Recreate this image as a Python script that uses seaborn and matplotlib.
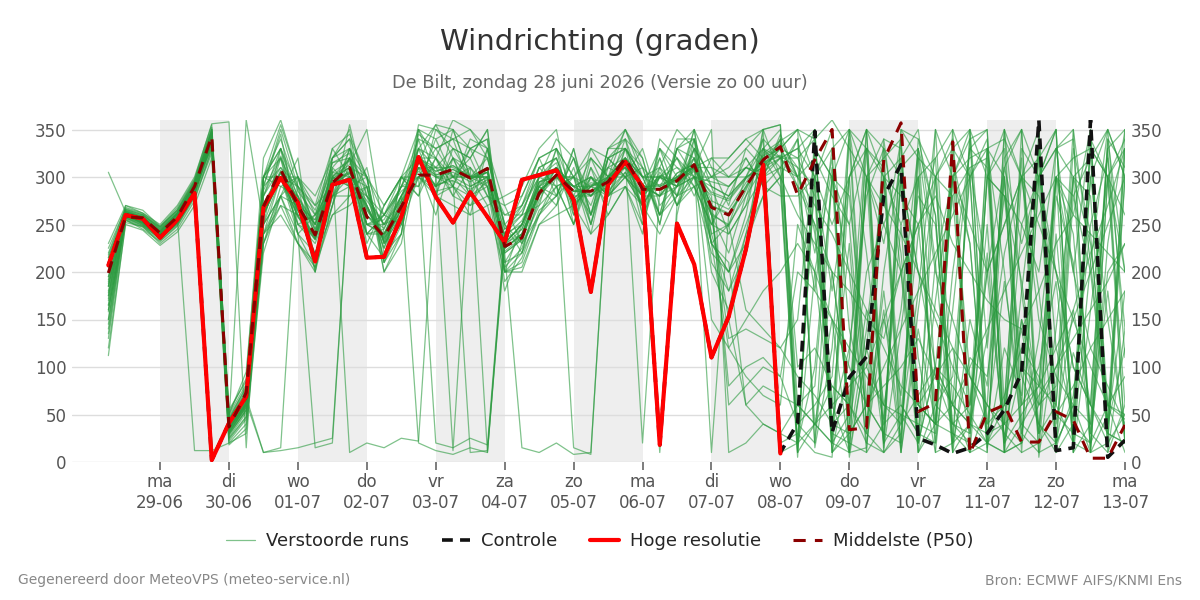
import pandas as pd
import numpy as np
import seaborn as sns
import matplotlib.pyplot as plt
from matplotlib.lines import Line2D

# 6-hourly steps from 28-06 06:00 until 13-07 00:00 (60 steps)
start = "2026-06-28 06:00"
n_steps = 60

# Hoge resolutie (ends 08-07 00:00)
hires = [207, 260, 256, 236, 255, 283, 2, 41, 69, 268, 299, 273, 211, 292, 297, 215, 216, 258, 321, 279,
         252, 284, 258, 231, 297, 302, 307, 276, 179, 292, 316, 290, 18, 251, 208, 110, 153, 224, 313, 9]

# Controle run
control = [207, 260, 256, 236, 255, 283, 2, 41, 69, 268, 299, 273, 211, 292, 297, 215, 216, 258, 321, 279,
           252, 284, 258, 231, 297, 302, 307, 276, 179, 292, 316, 290, 18, 251, 208, 110, 153, 224, 313, 10,
           41, 348, 31, 89, 111, 280, 313, 25, 18, 9, 15, 30, 55, 94, 360, 12, 15, 360, 5, 23]

# Middelste (P50)
median = [199, 258, 257, 241, 258, 290, 343, 37, 73, 269, 308, 270, 239, 294, 310, 258, 237, 269, 302, 302,
          308, 299, 309, 227, 236, 283, 302, 285, 285, 295, 320, 287, 287, 296, 313, 268, 260, 290, 318, 332,
          281, 318, 350, 34, 36, 318, 357, 53, 62, 337, 9, 52, 60, 21, 21, 53, 44, 4, 4, 39]

# Verstoorde runs: first 3 days + days 4-10 + last 5 days, per member
members = [
    [185, 262, 250, 238, 255, 285, 335, 28, 55]
    + [250, 330, 290, 215, 320, 340, 300, 260, 250, 330, 355, 320, 280, 310, 200, 250, 300, 340, 320, 260,
       300, 350, 300, 260, 330, 340, 230, 200, 250, 300, 345]
    + [300, 250, 45, 120, 280, 330, 220, 20, 100, 60, 310, 200, 25, 150, 80, 300, 240, 30, 180, 20],
    [150, 258, 260, 245, 262, 292, 345, 40, 70]
    + [290, 345, 250, 260, 280, 290, 240, 215, 300, 280, 320, 290, 260, 330, 245, 260, 270, 290, 250, 310,
       280, 300, 270, 330, 310, 290, 250, 280, 320, 290, 310]
    + [340, 15, 120, 350, 220, 60, 160, 330, 260, 20, 110, 90, 220, 300, 180, 15, 70, 250, 320, 140],
    [210, 255, 248, 235, 250, 280, 350, 25, 48]
    + [240, 300, 240, 205, 270, 355, 280, 250, 290, 340, 280, 330, 320, 350, 210, 220, 260, 290, 300, 240,
       320, 330, 300, 310, 350, 330, 200, 160, 240, 280, 300]
    + [10, 200, 310, 40, 160, 20, 300, 110, 10, 200, 330, 350, 60, 140, 30, 280, 210, 15, 230, 350],
    [175, 265, 258, 242, 260, 295, 330, 45, 80]
    + [300, 290, 300, 260, 310, 330, 270, 225, 280, 320, 290, 300, 310, 280, 240, 270, 310, 320, 270, 300,
       290, 340, 260, 300, 280, 330, 300, 290, 310, 330, 320]
    + [290, 180, 330, 5, 120, 45, 250, 10, 170, 300, 90, 40, 190, 60, 330, 120, 45, 300, 150, 30],
    [135, 260, 252, 240, 256, 288, 340, 30, 60]
    + [280, 320, 240, 15, 20, 300, 250, 240, 260, 330, 310, 280, 310, 10, 230, 250, 300, 320, 270, 290,
       300, 310, 290, 20, 270, 330, 240, 250, 300, 310, 340]
    + [60, 80, 300, 200, 20, 150, 70, 240, 320, 350, 40, 130, 280, 190, 60, 80, 350, 210, 40, 120],
    [205, 262, 256, 242, 258, 12, 12, 20, 30]
    + [230, 290, 280, 250, 330, 300, 290, 230, 250, 300, 20, 15, 25, 18, 240, 280, 320, 280, 300, 250,
       310, 300, 330, 270, 290, 340, 260, 220, 280, 330, 310]
    + [300, 40, 150, 10, 300, 230, 340, 60, 90, 120, 30, 200, 310, 350, 5, 140, 300, 230, 60, 45],
    [220, 268, 262, 250, 270, 300, 355, 50, 95]
    + [300, 340, 285, 260, 315, 320, 250, 255, 290, 300, 285, 290, 280, 295, 245, 265, 300, 315, 265, 300,
       280, 305, 270, 305, 280, 300, 295, 290, 310, 305, 320]
    + [320, 280, 10, 110, 350, 300, 10, 160, 300, 280, 60, 330, 200, 30, 130, 300, 260, 350, 40, 180],
    [160, 255, 245, 232, 248, 278, 325, 20, 40]
    + [220, 280, 230, 200, 270, 330, 300, 210, 240, 350, 340, 350, 330, 340, 200, 210, 260, 280, 320, 260,
       330, 350, 320, 250, 330, 350, 240, 180, 220, 350, 10]
    + [20, 300, 350, 140, 60, 340, 200, 10, 40, 300, 230, 15, 120, 70, 320, 350, 10, 160, 300, 340],
    [190, 262, 255, 238, 258, 290, 345, 38, 65]
    + [290, 310, 275, 245, 305, 300, 275, 250, 280, 310, 260, 320, 280, 330, 235, 245, 295, 300, 300, 290,
       310, 320, 270, 300, 310, 300, 260, 130, 140, 130, 120]
    + [150, 330, 300, 10, 15, 200, 320, 350, 210, 10, 40, 300, 350, 180, 30, 60, 330, 240, 20, 50],
    [140, 257, 250, 236, 252, 283, 338, 32, 58]
    + [250, 280, 300, 235, 300, 290, 280, 225, 275, 330, 320, 300, 330, 290, 205, 225, 275, 310, 290, 260,
       320, 300, 310, 290, 320, 300, 280, 60, 80, 100, 90]
    + [40, 60, 90, 300, 330, 15, 140, 280, 250, 40, 20, 300, 330, 60, 100, 190, 20, 340, 300, 20],
    [230, 270, 265, 248, 265, 296, 350, 55, 85]
    + [280, 330, 278, 250, 308, 10, 20, 15, 25, 22, 300, 296, 10, 12, 230, 250, 292, 310, 278, 292,
       290, 314, 282, 302, 295, 308, 282, 275, 298, 315, 322]
    + [310, 290, 20, 50, 300, 340, 330, 20, 100, 280, 310, 320, 40, 20, 300, 330, 350, 10, 50, 330],
    [112, 252, 248, 230, 245, 275, 330, 22, 45]
    + [230, 270, 260, 220, 260, 280, 290, 210, 250, 345, 330, 340, 290, 300, 190, 215, 265, 280, 330, 250,
       330, 340, 290, 280, 330, 300, 230, 120, 150, 180, 200]
    + [230, 200, 40, 60, 330, 310, 60, 30, 20, 300, 340, 40, 60, 320, 10, 20, 300, 280, 30, 20],
    [305, 263, 258, 244, 262, 292, 342, 42, 72]
    + [300, 320, 260, 255, 315, 325, 250, 260, 285, 300, 280, 350, 300, 320, 250, 270, 300, 310, 260, 330,
       300, 310, 270, 300, 290, 330, 300, 300, 300, 330, 300]
    + [20, 100, 300, 250, 40, 180, 20, 340, 260, 10, 150, 80, 310, 230, 300, 20, 115, 60, 340, 200],
    [180, 260, 254, 240, 256, 287, 339, 34, 61]
    + [260, 300, 250, 230, 280, 330, 280, 250, 260, 300, 310, 330, 300, 290, 220, 15, 10, 20, 8, 10,
       300, 330, 300, 260, 280, 320, 250, 240, 270, 340, 320]
    + [300, 350, 30, 20, 10, 300, 320, 60, 40, 330, 300, 10, 350, 40, 20, 330, 300, 30, 10, 60],
    [200, 266, 260, 246, 264, 294, 348, 48, 78]
    + [290, 350, 290, 265, 320, 350, 240, 260, 290, 290, 320, 290, 270, 280, 260, 270, 320, 330, 250, 300,
       270, 330, 260, 320, 270, 300, 300, 310, 330, 350, 300]
    + [340, 240, 60, 10, 120, 300, 40, 180, 350, 60, 10, 220, 20, 150, 40, 10, 280, 200, 40, 300],
    [165, 259, 251, 237, 253, 284, 336, 30, 55]
    + [264, 300, 258, 234, 292, 304, 270, 232, 266, 320, 306, 312, 300, 310, 220, 234, 284, 301, 290, 280,
       300, 320, 292, 280, 304, 314, 150, 120, 90, 70, 60]
    + [250, 200, 150, 100, 60, 30, 310, 330, 200, 150, 90, 60, 40, 250, 300, 330, 200, 120, 80, 40],
    [195, 261, 254, 239, 257, 289, 341, 36, 63]
    + [10, 12, 15, 20, 25, 300, 250, 240, 280, 20, 12, 8, 15, 10, 240, 260, 310, 290, 300, 270,
       320, 300, 280, 310, 290, 320, 290, 240, 270, 300, 310]
    + [100, 120, 80, 60, 200, 250, 300, 200, 150, 100, 60, 200, 250, 300, 150, 90, 60, 40, 200, 230],
    [215, 264, 257, 243, 261, 291, 346, 44, 74]
    + [300, 330, 240, 260, 290, 320, 230, 270, 300, 280, 350, 330, 320, 280, 270, 230, 300, 290, 250, 320,
       280, 290, 240, 340, 320, 280, 320, 300, 320, 290, 280]
    + [280, 300, 330, 350, 300, 250, 200, 60, 40, 30, 20, 10, 350, 300, 280, 200, 100, 60, 330, 350],
    [170, 256, 249, 235, 251, 282, 332, 26, 52]
    + [240, 270, 230, 210, 280, 310, 300, 200, 240, 340, 330, 300, 320, 350, 200, 200, 250, 270, 310, 250,
       320, 340, 320, 260, 290, 350, 230, 210, 60, 80, 70]
    + [60, 40, 20, 350, 330, 300, 280, 250, 60, 40, 30, 330, 300, 100, 80, 60, 300, 320, 350, 300],
    [225, 267, 261, 247, 266, 297, 352, 52, 88]
    + [320, 360, 300, 280, 320, 340, 220, 270, 300, 290, 340, 300, 300, 270, 280, 290, 330, 350, 260, 310,
       260, 290, 250, 310, 270, 290, 300, 320, 340, 320, 290]
    + [5, 330, 300, 280, 100, 60, 40, 320, 300, 10, 350, 300, 280, 90, 40, 20, 60, 330, 300, 200],
    [185, 258, 252, 238, 254, 286, 338, 33, 60]
    + [268, 304, 264, 236, 294, 306, 268, 234, 268, 318, 304, 12, 298, 308, 222, 236, 286, 302, 15, 8,
       298, 318, 20, 286, 296, 310, 10, 260, 288, 320, 330]
    + [350, 20, 200, 60, 30, 330, 10, 140, 40, 320, 230, 20, 300, 10, 350, 40, 160, 60, 20, 300],
    [178, 261, 256, 241, 258, 289, 343, 38, 66]
    + [260, 320, 280, 200, 300, 290, 300, 210, 300, 320, 290, 320, 310, 290, 180, 230, 270, 330, 280, 320,
       300, 300, 270, 10, 260, 340, 290, 280, 300, 340, 20]
    + [30, 10, 5, 300, 350, 40, 60, 30, 300, 340, 10, 20, 60, 330, 300, 350, 20, 10, 300, 60],
    [150, 262, 257, 243, 260, 291, 344, 40, 68]
    + [10, 15, 300, 242, 301, 313, 350, 240, 274, 315, 355, 350, 300, 305, 228, 245, 290, 307, 285, 290,
       297, 318, 289, 292, 299, 312, 275, 266, 294, 323, 335]
    + [310, 220, 320, 20, 140, 300, 250, 300, 20, 160, 330, 310, 20, 100, 60, 300, 200, 350, 10, 140],
    [195, 259, 253, 239, 255, 287, 339, 35, 62]
    + [272, 305, 265, 238, 298, 310, 265, 237, 270, 315, 302, 308, 298, 305, 225, 240, 285, 303, 285, 285,
       295, 318, 288, 287, 298, 312, 270, 80, 100, 110, 90]
    + [200, 180, 150, 120, 90, 60, 50, 40, 30, 300, 320, 330, 340, 300, 250, 200, 150, 100, 60, 50],
    [188, 263, 255, 241, 259, 290, 342, 37, 64]
    + [250, 300, 290, 270, 290, 300, 280, 260, 290, 330, 280, 290, 330, 320, 250, 230, 260, 300, 290, 300,
       280, 330, 300, 300, 320, 290, 250, 290, 310, 300, 340]
    + [300, 320, 280, 250, 330, 10, 30, 300, 320, 20, 40, 300, 280, 250, 200, 330, 340, 10, 20, 330],
    [158, 257, 249, 236, 251, 282, 334, 29, 54]
    + [240, 280, 240, 220, 270, 320, 300, 220, 240, 350, 300, 290, 340, 330, 200, 220, 290, 280, 320, 280,
       310, 350, 310, 260, 330, 320, 230, 200, 260, 350, 355]
    + [10, 40, 80, 60, 300, 320, 340, 10, 60, 90, 300, 330, 20, 50, 80, 300, 10, 40, 330, 20],
    [208, 265, 259, 245, 263, 293, 347, 46, 76]
    + [300, 300, 250, 240, 310, 290, 240, 245, 290, 320, 320, 280, 270, 300, 260, 260, 310, 320, 270, 290,
       280, 300, 280, 320, 270, 310, 310, 300, 310, 300, 320]
    + [330, 300, 10, 40, 300, 20, 350, 340, 300, 30, 10, 60, 320, 350, 30, 300, 280, 320, 60, 10],
    [172, 260, 253, 240, 256, 287, 340, 35, 62]
    + [280, 310, 290, 250, 290, 320, 290, 230, 260, 310, 290, 320, 300, 300, 230, 250, 290, 300, 300, 280,
       300, 310, 290, 280, 300, 320, 260, 250, 280, 310, 330]
    + [350, 340, 60, 230, 10, 40, 300, 20, 210, 300, 350, 120, 300, 30, 10, 240, 40, 300, 350, 110],
    [130, 254, 247, 233, 249, 280, 328, 24, 47]
    + [230, 280, 270, 210, 280, 280, 310, 230, 260, 355, 350, 340, 330, 340, 210, 240, 290, 270, 330, 260,
       330, 330, 310, 250, 340, 340, 210, 180, 240, 330, 350]
    + [40, 20, 300, 350, 60, 30, 20, 300, 40, 350, 300, 30, 40, 300, 320, 20, 60, 10, 300, 330],
    [218, 266, 260, 247, 265, 295, 350, 50, 82]
    + [286, 322, 273, 250, 305, 317, 259, 246, 280, 306, 292, 296, 287, 297, 237, 254, 294, 310, 277, 294,
       290, 313, 279, 301, 294, 306, 284, 277, 299, 316, 323]
    + [20, 300, 180, 300, 40, 160, 10, 330, 90, 40, 60, 250, 10, 180, 330, 60, 20, 210, 350, 300],
    [200, 270, 262, 248, 268, 298, 356, 358, 15]
    + [300, 355, 300, 270, 330, 345, 300, 270, 300, 300, 330, 340, 350, 330, 270, 280, 320, 330, 300, 330,
       320, 330, 290, 330, 300, 310, 320, 320, 340, 350, 355]
    + [10, 350, 20, 340, 30, 10, 350, 320, 10, 20, 340, 350, 10, 20, 300, 350, 10, 340, 30, 350],
    [120, 250, 244, 228, 242, 270, 320, 18, 35]
    + [240, 260, 230, 205, 260, 270, 290, 200, 230, 320, 280, 270, 260, 270, 200, 205, 250, 260, 270, 240,
       260, 290, 270, 240, 280, 290, 220, 200, 230, 280, 300]
    + [260, 230, 200, 180, 150, 130, 200, 250, 280, 230, 200, 170, 150, 140, 180, 230, 260, 240, 220, 200],
    [165, 261, 254, 240, 257, 288, 340, 35, 62]
    + [270, 300, 300, 245, 290, 300, 240, 240, 270, 310, 310, 300, 300, 300, 230, 250, 290, 310, 290, 290,
       300, 320, 300, 290, 300, 310, 230, 250, 160, 140, 120]
    + [90, 70, 40, 30, 60, 80, 100, 130, 90, 60, 40, 30, 70, 120, 90, 50, 30, 20, 60, 90],
    [192, 264, 256, 242, 261, 291, 345, 44, 70]
    + [260, 300, 280, 240, 300, 320, 260, 240, 280, 320, 310, 310, 300, 300, 230, 240, 280, 310, 290, 300,
       280, 320, 300, 300, 290, 310, 350, 10, 20, 40, 30]
    + [60, 40, 20, 10, 350, 330, 300, 200, 100, 60, 40, 20, 10, 350, 300, 200, 100, 60, 30, 20],
    [145, 258, 252, 238, 254, 285, 337, 32, 58]
    + [265, 305, 265, 235, 295, 305, 270, 235, 265, 315, 300, 305, 295, 305, 225, 240, 285, 300, 285, 285,
       295, 315, 290, 290, 300, 310, 270, 260, 290, 320, 330]
    + [300, 270, 240, 200, 160, 120, 80, 60, 40, 60, 100, 140, 180, 220, 260, 300, 320, 330, 300, 260],
    [185, 260, 255, 240, 256, 287, 341, 36, 62]
    + [270, 307, 266, 238, 298, 310, 266, 238, 270, 316, 302, 308, 298, 305, 225, 240, 285, 303, 285, 285,
       295, 318, 288, 288, 298, 312, 270, 262, 290, 322, 332]
    + [290, 250, 200, 60, 20, 10, 40, 70, 100, 80, 50, 20, 10, 20, 60, 100, 150, 200, 250, 300],
    [215, 263, 257, 243, 261, 291, 345, 43, 360]
    + [250, 280, 320, 200, 320, 330, 240, 260, 300, 350, 320, 360, 350, 320, 250, 220, 280, 330, 300, 320,
       300, 320, 250, 330, 280, 350, 310, 270, 330, 310, 330]
    + [320, 340, 360, 330, 300, 270, 240, 200, 160, 120, 90, 60, 30, 10, 20, 50, 80, 120, 150, 180],
    [175, 259, 252, 238, 255, 286, 339, 34, 60]
    + [260, 300, 260, 235, 280, 300, 260, 236, 260, 310, 300, 300, 290, 300, 225, 238, 280, 300, 280, 280,
       290, 310, 280, 280, 290, 300, 260, 150, 60, 40, 30]
    + [20, 40, 60, 80, 100, 150, 200, 250, 300, 330, 350, 20, 40, 60, 80, 120, 160, 220, 270, 330],
    [205, 264, 258, 243, 262, 292, 346, 44, 74]
    + [300, 330, 270, 255, 300, 310, 250, 250, 275, 300, 290, 300, 280, 290, 240, 250, 295, 300, 275, 290,
       285, 305, 280, 300, 290, 300, 290, 280, 300, 310, 320]
    + [330, 350, 10, 30, 60, 100, 140, 180, 220, 260, 300, 340, 10, 40, 70, 100, 130, 160, 190, 230],
    [160, 257, 251, 237, 253, 284, 337, 31, 57]
    + [260, 300, 258, 234, 292, 304, 270, 232, 266, 320, 306, 312, 300, 310, 220, 234, 284, 301, 290, 280,
       300, 320, 292, 280, 304, 314, 262, 248, 286, 325, 338]
    + [350, 300, 250, 300, 350, 20, 50, 20, 350, 300, 250, 200, 250, 300, 350, 10, 40, 20, 340, 310],
]

day_names = ["ma", "di", "wo", "do", "vr", "za", "zo"]

times = pd.date_range(start, periods=n_steps, freq="6h")

ens_df = pd.DataFrame([
    {"time": times[i], "member": m, "value": v}
    for m, vals in enumerate(members) for i, v in enumerate(vals)
])

sns.set_theme(style="white")
plt.rcParams["font.family"] = ["DejaVu Sans"]

fig = plt.figure(figsize=(12, 6), dpi=100)
ax = fig.add_axes([0.06, 0.23, 0.8775, 0.57])

green = "#2a9a3e"

# shaded alternating days
days = pd.date_range("2026-06-29", "2026-07-13", freq="D")
for d in days[:-1:2]:
    ax.axvspan(d, d + pd.Timedelta(days=1), color="#eeeeee", zorder=0, lw=0)

sns.lineplot(data=ens_df, x="time", y="value", units="member", estimator=None,
             color=green, lw=0.9, alpha=0.6, ax=ax, zorder=2)
sns.lineplot(x=times, y=control, color="#111111", lw=2.6, ls=(0, (3, 2)), ax=ax, zorder=3)
sns.lineplot(x=times[:len(hires)], y=hires, color="#ff0000", lw=3, ax=ax, zorder=4)
sns.lineplot(x=times, y=median, color="#8b0000", lw=2.2, ls=(0, (4, 3)), ax=ax, zorder=5)

ax.set_ylim(0, 360)
ax.set_xlim(pd.Timestamp("2026-06-27 17:20"), pd.Timestamp("2026-07-13 00:00"))
ax.set_yticks(range(0, 351, 50))
ax.yaxis.grid(True, color="#dddddd", lw=1, zorder=1)
ax.set_axisbelow(True)
ax.set_xticks(days)
ax.set_xticklabels([f"{day_names[d.dayofweek]}\n{d.strftime('%d-%m')}" for d in days])
ax.tick_params(axis="x", length=6, width=1.2, color="#666666", labelsize=12,
               labelcolor="#555555", bottom=True, pad=2)
ax.tick_params(axis="y", length=0, labelsize=12, labelcolor="#555555",
               labelright=True, pad=4)
ax.set_xlabel("")
ax.set_ylabel("")
sns.despine(ax=ax, left=True, bottom=True)

fig.text(0.5, 0.93, "Windrichting (graden)", ha="center", va="center",
         fontsize=21, color="#333333")
fig.text(0.5, 0.862, "De Bilt, zondag 28 juni 2026 (Versie zo 00 uur)", ha="center",
         va="center", fontsize=12.8, color="#666666")

handles = [
    Line2D([], [], color=green, lw=0.9, alpha=0.6),
    Line2D([], [], color="#111111", lw=2.6, ls=(0, (3, 2))),
    Line2D([], [], color="#ff0000", lw=3),
    Line2D([], [], color="#8b0000", lw=2.2, ls=(0, (4, 3))),
]
labels = ["Verstoorde runs", "Controle", "Hoge resolutie", "Middelste (P50)"]
fig.legend(handles, labels, loc="center", bbox_to_anchor=(0.5, 0.098), ncol=4,
           frameon=False, fontsize=13, handlelength=1.6, handletextpad=0.6,
           columnspacing=1.8)

fig.text(0.015, 0.033, "Gegenereerd door MeteoVPS (meteo-service.nl)", ha="left",
         va="center", fontsize=10, color="#888888")
fig.text(0.985, 0.033, "Bron: ECMWF AIFS/KNMI Ens", ha="right", va="center",
         fontsize=10, color="#888888")

fig.savefig("out.png", dpi=100)
